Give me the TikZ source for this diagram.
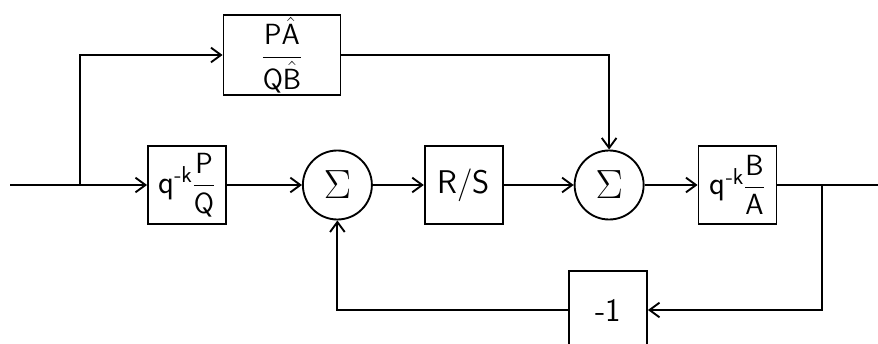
\documentclass[tikz,border=0pt]{standalone}
\usepackage{amsmath,graphicx}
\usepackage{tikz}
\usetikzlibrary{arrows.meta,positioning}

\begin{document}
\begin{tikzpicture}[x=0.3mm,y=-0.3mm,
 blk/.style={draw,line width=1.6pt,minimum width=23.4mm,minimum height=23.4mm,inner sep=0pt,font=\fontsize{28}{32}\selectfont\sffamily},
 sumnode/.style={draw,circle,line width=1.6pt,minimum size=20.7mm,inner sep=0pt,font=\fontsize{24}{28}\selectfont},
 flow/.style={-{Straight Barb[length=3mm,width=4.4mm]},line width=1.6pt},
 wire/.style={line width=1.6pt}
]
\useasboundingbox (0,0) rectangle (878,344);
\clip (0,0) rectangle (878,344);
\node[blk] (prefilt) at (187,185) {q$^{\text{-k}}\dfrac{\mathsf{P}}{\mathsf{Q}}$};
\node[sumnode,right=22.5mm of prefilt] (sumA) {\scalebox{1.4}{$\Sigma$}};
\node[blk,right=15.3mm of sumA] (ctrl) {R/S};
\node[sumnode,right=21mm of ctrl] (sumB) {\scalebox{1.4}{$\Sigma$}};
\node[blk,right=15.9mm of sumB] (plant) {q$^{\text{-k}}\dfrac{\mathsf{B}}{\mathsf{A}}$};
\node[blk,minimum width=35.1mm,minimum height=24mm] (ff) at (282,55) {$\dfrac{\mathsf{P}\hat{\mathsf{A}}}{\mathsf{Q}\hat{\mathsf{B}}}$};
\node[blk] (neg) at (608,310) {-1};
\coordinate (in) at (10,185);
\coordinate (split) at (80,185);
\coordinate (tap) at (822,185);
\coordinate (out) at (878,185);
\draw[wire] (in)--(split);
\draw[flow] (split)--(prefilt);
\draw[flow] (split) |- (ff.west);
\draw[flow] (prefilt)--(sumA);
\draw[flow] (sumA)--(ctrl);
\draw[flow] (ctrl)--(sumB);
\draw[flow] (ff.east) -| (sumB.north);
\draw[flow] (sumB)--(plant);
\draw[wire] (plant)--(out);
\draw[flow] (tap) |- (neg.east);
\draw[flow] (neg.west) -| (sumA.south);
\end{tikzpicture}
\end{document}
